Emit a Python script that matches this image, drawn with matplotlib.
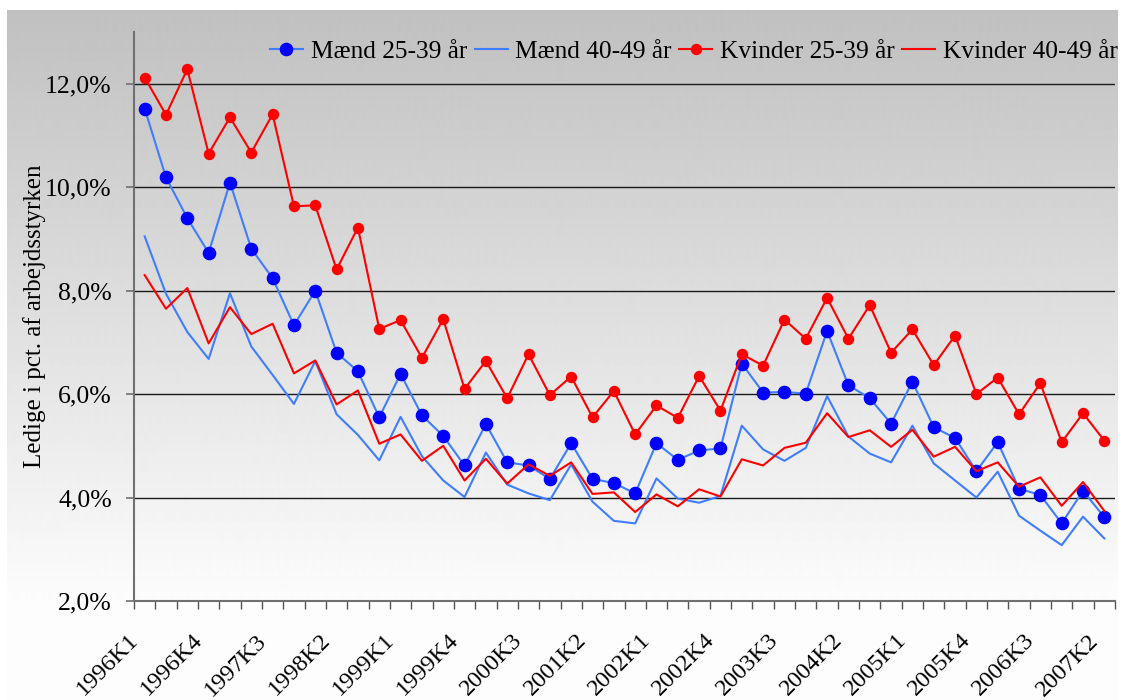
import numpy as np
import matplotlib
matplotlib.use("Agg")
import matplotlib.pyplot as plt
from matplotlib.ticker import FixedLocator, FuncFormatter
from matplotlib.transforms import ScaledTranslation

plt.rcParams['font.family'] = ['Liberation Serif', 'DejaVu Serif']

# Quarterly unemployment rates (% of labour force), 1996K1 - 2007K2
quarters = [f"{y}K{q}" for y in range(1996, 2008) for q in range(1, 5)][:46]

maend_25_39 = [11.52, 10.19, 9.40, 8.73, 10.09, 8.81, 8.24, 7.33, 8.00, 6.80,
               6.44, 5.55, 6.39, 5.59, 5.19, 4.62, 5.42, 4.68, 4.62, 4.36,
               5.05, 4.36, 4.28, 4.08, 5.05, 4.73, 4.91, 4.95, 6.59, 6.03,
               6.04, 6.01, 7.22, 6.17, 5.92, 5.43, 6.24, 5.36, 5.15, 4.51,
               5.07, 4.17, 4.05, 3.50, 4.13, 3.62]
maend_40_49 = [9.05, 7.94, 7.20, 6.68, 7.95, 6.92, 6.37, 5.81, 6.64, 5.61,
               5.21, 4.72, 5.56, 4.80, 4.33, 4.01, 4.87, 4.25, 4.08, 3.95,
               4.64, 3.92, 3.55, 3.50, 4.37, 3.98, 3.90, 4.03, 5.39, 4.93,
               4.71, 4.96, 5.96, 5.18, 4.85, 4.68, 5.39, 4.66, 4.33, 4.00,
               4.50, 3.65, 3.36, 3.08, 3.63, 3.21]
kvinder_25_39 = [12.12, 11.40, 12.28, 10.65, 11.35, 10.67, 11.41, 9.63, 9.65, 8.41,
                 9.22, 7.26, 7.43, 6.70, 7.45, 6.10, 6.64, 5.92, 6.77, 5.98,
                 6.34, 5.55, 6.06, 5.22, 5.78, 5.54, 6.35, 5.68, 6.77, 6.55,
                 7.44, 7.07, 7.86, 7.07, 7.72, 6.80, 7.25, 6.56, 7.13, 6.00,
                 6.32, 5.61, 6.21, 5.07, 5.63, 5.10]
kvinder_40_49 = [8.30, 7.65, 8.05, 6.98, 7.68, 7.16, 7.36, 6.40, 6.65, 5.80,
                 6.07, 5.04, 5.22, 4.71, 5.00, 4.33, 4.75, 4.27, 4.64, 4.42,
                 4.68, 4.07, 4.10, 3.72, 4.06, 3.83, 4.16, 4.02, 4.74, 4.62,
                 4.96, 5.06, 5.63, 5.17, 5.30, 4.98, 5.31, 4.79, 4.98, 4.51,
                 4.68, 4.21, 4.39, 3.84, 4.30, 3.74]

series_labels = ["Mænd 25-39 år", "Mænd 40-49 år", "Kvinder 25-39 år", "Kvinder 40-49 år"]

W, H = 1122, 700
fig = plt.figure(figsize=(W / 100, H / 100), dpi=100)
fig.patch.set_facecolor("white")

# Grey-to-white vertical gradient panel behind the chart
px0, px1, py0 = 7, 1118, 10
bg = fig.add_axes([px0 / W, 0, (px1 - px0) / W, 1 - py0 / H], zorder=0)
rows = np.arange(H - py0)
shade = np.clip(192 + (253 - 192) * rows / 600.0, 0, 253) / 255.0
grad = np.repeat(shade[:, None], 2, axis=1)
bg.imshow(grad, cmap="gray", vmin=0, vmax=1, aspect="auto", interpolation="bilinear")
bg.set_axis_off()

# Main plot area
x0, x1, y_top, y_bot = 134, 1115, 32, 601
ax = fig.add_axes([x0 / W, 1 - y_bot / H, (x1 - x0) / W, (y_bot - y_top) / H], zorder=1)
ax.set_facecolor("none")

x = np.arange(len(quarters))
light_blue = "#3f7dff"
ax.plot(x, maend_25_39, color=light_blue, lw=1.5, marker="o", ms=8.8,
        mfc="#0000ff", mec="#0000ff", label=series_labels[0], zorder=3)
ax.plot(x, maend_40_49, color=light_blue, lw=1.5, label=series_labels[1], zorder=3)
ax.plot(x, kvinder_25_39, color="#ff0000", lw=1.5, marker="o", ms=7.2,
        mfc="#ff0000", mec="#ff0000", label=series_labels[2], zorder=3)
ax.plot(x, kvinder_40_49, color="#ff0000", lw=1.5, label=series_labels[3], zorder=3)

ax.set_xlim(-0.5, len(quarters) - 0.5)
ax.set_ylim(2, 13)

# Horizontal gridlines
yticks = [2, 4, 6, 8, 10, 12]
for yv in yticks[1:]:
    ax.axhline(yv, color="#1a1a1a", lw=1.0, zorder=1)

ax.yaxis.set_major_locator(FixedLocator(yticks))
ax.yaxis.set_major_formatter(FuncFormatter(lambda v, p: f"{v:.1f}%".replace(".", ",")))
ax.tick_params(axis="y", which="major", direction="out", length=6, width=1.2,
               color="#707070", labelsize=18.5, pad=10)

# Category axis: tick marks between quarters, labels every third quarter
ax.xaxis.set_minor_locator(FixedLocator(np.arange(-0.5, len(quarters), 1.0)))
ax.xaxis.set_major_locator(FixedLocator(x[::3]))
ax.set_xticklabels([quarters[i] for i in x[::3]], rotation=45, ha="right",
                   va="center", rotation_mode="anchor")
ax.tick_params(axis="x", which="minor", direction="out", length=6, width=1.0, color="#555555")
ax.tick_params(axis="x", which="major", length=0, labelsize=17.5, pad=24)
shift = ScaledTranslation(-0.09, -0.03, fig.dpi_scale_trans)
for lab in ax.get_xticklabels():
    lab.set_transform(lab.get_transform() + shift)

for side in ("top", "right"):
    ax.spines[side].set_visible(False)
for side in ("left", "bottom"):
    ax.spines[side].set_color("#707070")
    ax.spines[side].set_linewidth(1.5)

ax.set_ylabel("Ledige i pct. af arbejdsstyrken", fontsize=18)
ax.yaxis.set_label_coords(-0.09, 0.5)

ax.legend(loc="center right", bbox_to_anchor=(1.003, 0.965), ncol=4, frameon=False,
          fontsize=18.3, handlelength=1.3, handletextpad=0.3, columnspacing=0.3,
          borderaxespad=0, borderpad=0)

fig.savefig("out.png", dpi=100)
